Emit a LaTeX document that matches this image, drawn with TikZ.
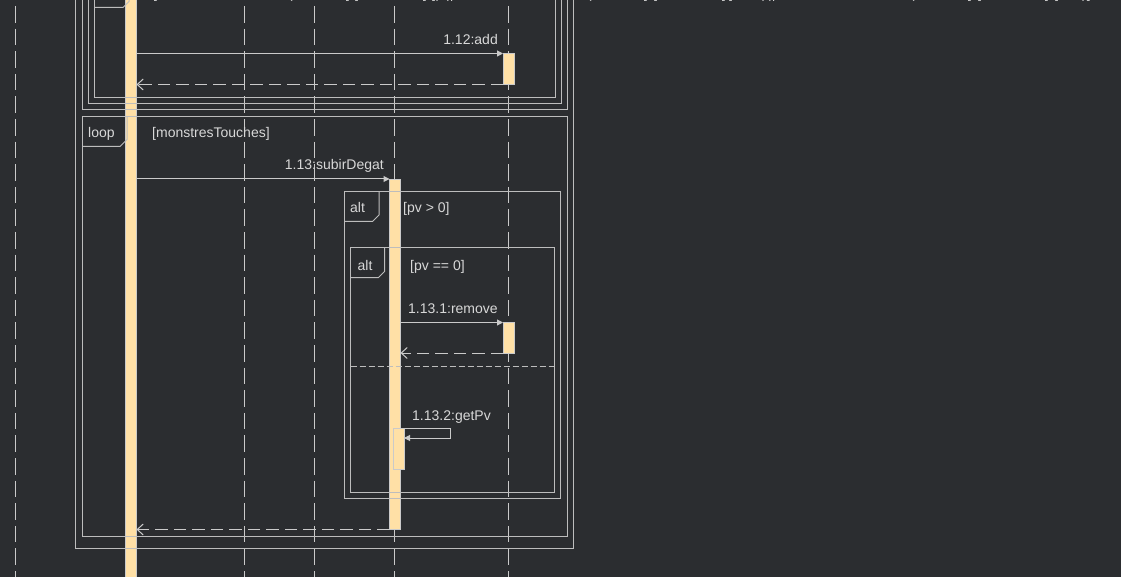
\documentclass[tikz,border=0pt]{standalone}
\usepackage{fontspec}
\setmainfont{Liberation Sans}
\usetikzlibrary{arrows.meta}
\definecolor{bg}{HTML}{2B2D30}
\definecolor{ln}{HTML}{CACACA}
\definecolor{fr}{HTML}{BDBDBD}
\definecolor{txt}{HTML}{D8D8D8}
\definecolor{act}{HTML}{FFE0A6}
\begin{document}
\begin{tikzpicture}[x=1pt,y=-1pt,
  lifeline/.style={draw=ln, line width=1pt, dash pattern=on 16.6pt off 6pt},
  actbar/.style={fill=act, draw=ln, line width=0.7pt},
  framebox/.style={draw=fr, line width=1pt},
  sepline/.style={draw=fr, line width=1pt, dash pattern=on 6pt off 3pt},
  msg/.style={draw=ln, line width=1pt, -{Triangle[length=6pt,width=6pt]}},
  ret/.style={draw=ln, line width=1pt, dash pattern=on 12.5pt off 6pt, -{Straight Barb[length=6pt,width=11pt]}},
  lbl/.style={text=txt, font=\fontsize{14}{16}\selectfont, inner sep=0pt, anchor=base west},
  lble/.style={lbl, anchor=base east},
]
\useasboundingbox (0,0) rectangle (1121,577);
\fill[bg] (0,0) rectangle (1121,577);
\clip (0,0) rectangle (1121,577);

% lifelines
\foreach \n/\x in {1/15.5, 3/244.5, 4/314.5, 5/394.5, 6/508.5}{
  \coordinate (L\n t) at (\x,-16.6);
  \coordinate (L\n b) at (\x,600);
  \draw[lifeline] (L\n t) -- (L\n b);
}

% activation bars
\draw[actbar] (125.5,-5) rectangle (136.5,590);
\draw[actbar] (503,53) rectangle (514,84.5);
\draw[actbar] (389.5,179) rectangle (400.5,529.5);
\draw[actbar] (503,322) rectangle (514,353);
\draw[actbar] (393.5,428.5) rectangle (404,469);

% frames (top, partly visible)
\draw[framebox] (75.5,-10) -- (75.5,548.5) -- (573.5,548.5) -- (573.5,-10);
\draw[framebox] (82,-10) -- (82,109.5) -- (567.5,109.5) -- (567.5,-10);
\draw[framebox] (88,-10) -- (88,103.5) -- (561.5,103.5) -- (561.5,-10);
\draw[framebox] (94,-10) -- (94,97.5) -- (555.5,97.5) -- (555.5,-10);
\draw[framebox] (94,7.5) -- (123,7.5) -- (129,1.5) -- (129,-10);

% loop frame
\draw[framebox] (82.5,116.5) rectangle (567.5,536.5);
\draw[framebox] (82.5,146.5) -- (120,146.5) -- (127,139.5) -- (127,116.5);

% outer alt
\draw[framebox] (344.5,191.5) rectangle (560.5,498.5);
\draw[framebox] (344.5,221.5) -- (372.5,221.5) -- (379,215) -- (379,191.5);

% inner alt
\draw[framebox] (350.5,247.5) rectangle (554.5,492.5);
\draw[framebox] (350.5,277.5) -- (378.5,277.5) -- (384.5,271.5) -- (384.5,247.5);
\coordinate (sepL) at (350.5,366.5);
\coordinate (sepR) at (554.5,366.5);
\draw[sepline] (sepL) -- (sepR);

% message endpoints
\coordinate (m1s) at (136.5,53.5);  \coordinate (m1e) at (503,53.5);
\coordinate (r1s) at (503,84.5);    \coordinate (r1e) at (136.5,84.5);
\coordinate (m2s) at (136.5,179);   \coordinate (m2e) at (389.5,179);
\coordinate (m3s) at (400.5,322.5); \coordinate (m3e) at (503,322.5);
\coordinate (r3s) at (503,353);     \coordinate (r3e) at (400.5,353);
\coordinate (m4s) at (400.5,428.5); \coordinate (m4a) at (450.5,428.5);
\coordinate (m4b) at (450.5,438);   \coordinate (m4e) at (404,438);
\coordinate (r2s) at (389.5,529.5); \coordinate (r2e) at (136.5,529.5);

\draw[msg] (m1s) -- (m1e);
\draw[ret] (r1s) -- (r1e);
\draw[msg] (m2s) -- (m2e);
\draw[msg] (m3s) -- (m3e);
\draw[ret] (r3s) -- (r3e);
\draw[msg] (m4s) -- (m4a) -- (m4b) -- (m4e);
\draw[ret] (r2s) -- (r2e);

% labels
\node[lble] (t1) at (498,45) {1.12:add};
\node[lble] (t2) at (384,170) {1.13:subirDegat};
\node[lbl] (t3) at (408,313) {1.13.1:remove};
\node[lbl] (t4) at (412,420) {1.13.2:getPv};
\node[lbl] (k1) at (88,138) {loop};
\node[lbl] (g1) at (152,138) {[monstresTouches]};
\node[lbl] (k2) at (350,213) {alt};
\node[lbl] (g2) at (403,213) {[pv > 0]};
\node[lbl] (k3) at (357.5,270) {alt};
\node[lbl] (g3) at (410,270) {[pv == 0]};

% clipped guard text at the top edge (only descenders visible)
\node[lbl] (c1) at (153,-1) {[};
\node[lbl] (c2) at (288,-1) {(};
\node[lbl] (c3) at (345,-1) {[};
\node[lbl] (c4) at (355,-1) {],};
\node[lbl] (c5) at (422,-1) {[};
\node[lbl] (c6) at (432,-1) {])};
\node[lbl] (c7) at (446,-1) {||};
\node[lbl] (c8) at (587,-1) {(};
\node[lbl] (c9) at (643,-1) {[};
\node[lbl] (c10) at (654,-1) {],};
\node[lbl] (c11) at (721,-1) {[};
\node[lbl] (c12) at (729,-1) {]};
\node[lbl] (c13) at (762,-1) {)};
\node[lbl] (c14) at (768,-1) {||};
\node[lbl] (c15) at (910,-1) {(};
\node[lbl] (c16) at (967,-1) {[};
\node[lbl] (c17) at (978,-1) {],};
\node[lbl] (c18) at (1044,-1) {[};
\node[lbl] (c19) at (1055,-1) {]};
\node[lbl] (c20) at (1082,-1) {)]};
\end{tikzpicture}
\end{document}
